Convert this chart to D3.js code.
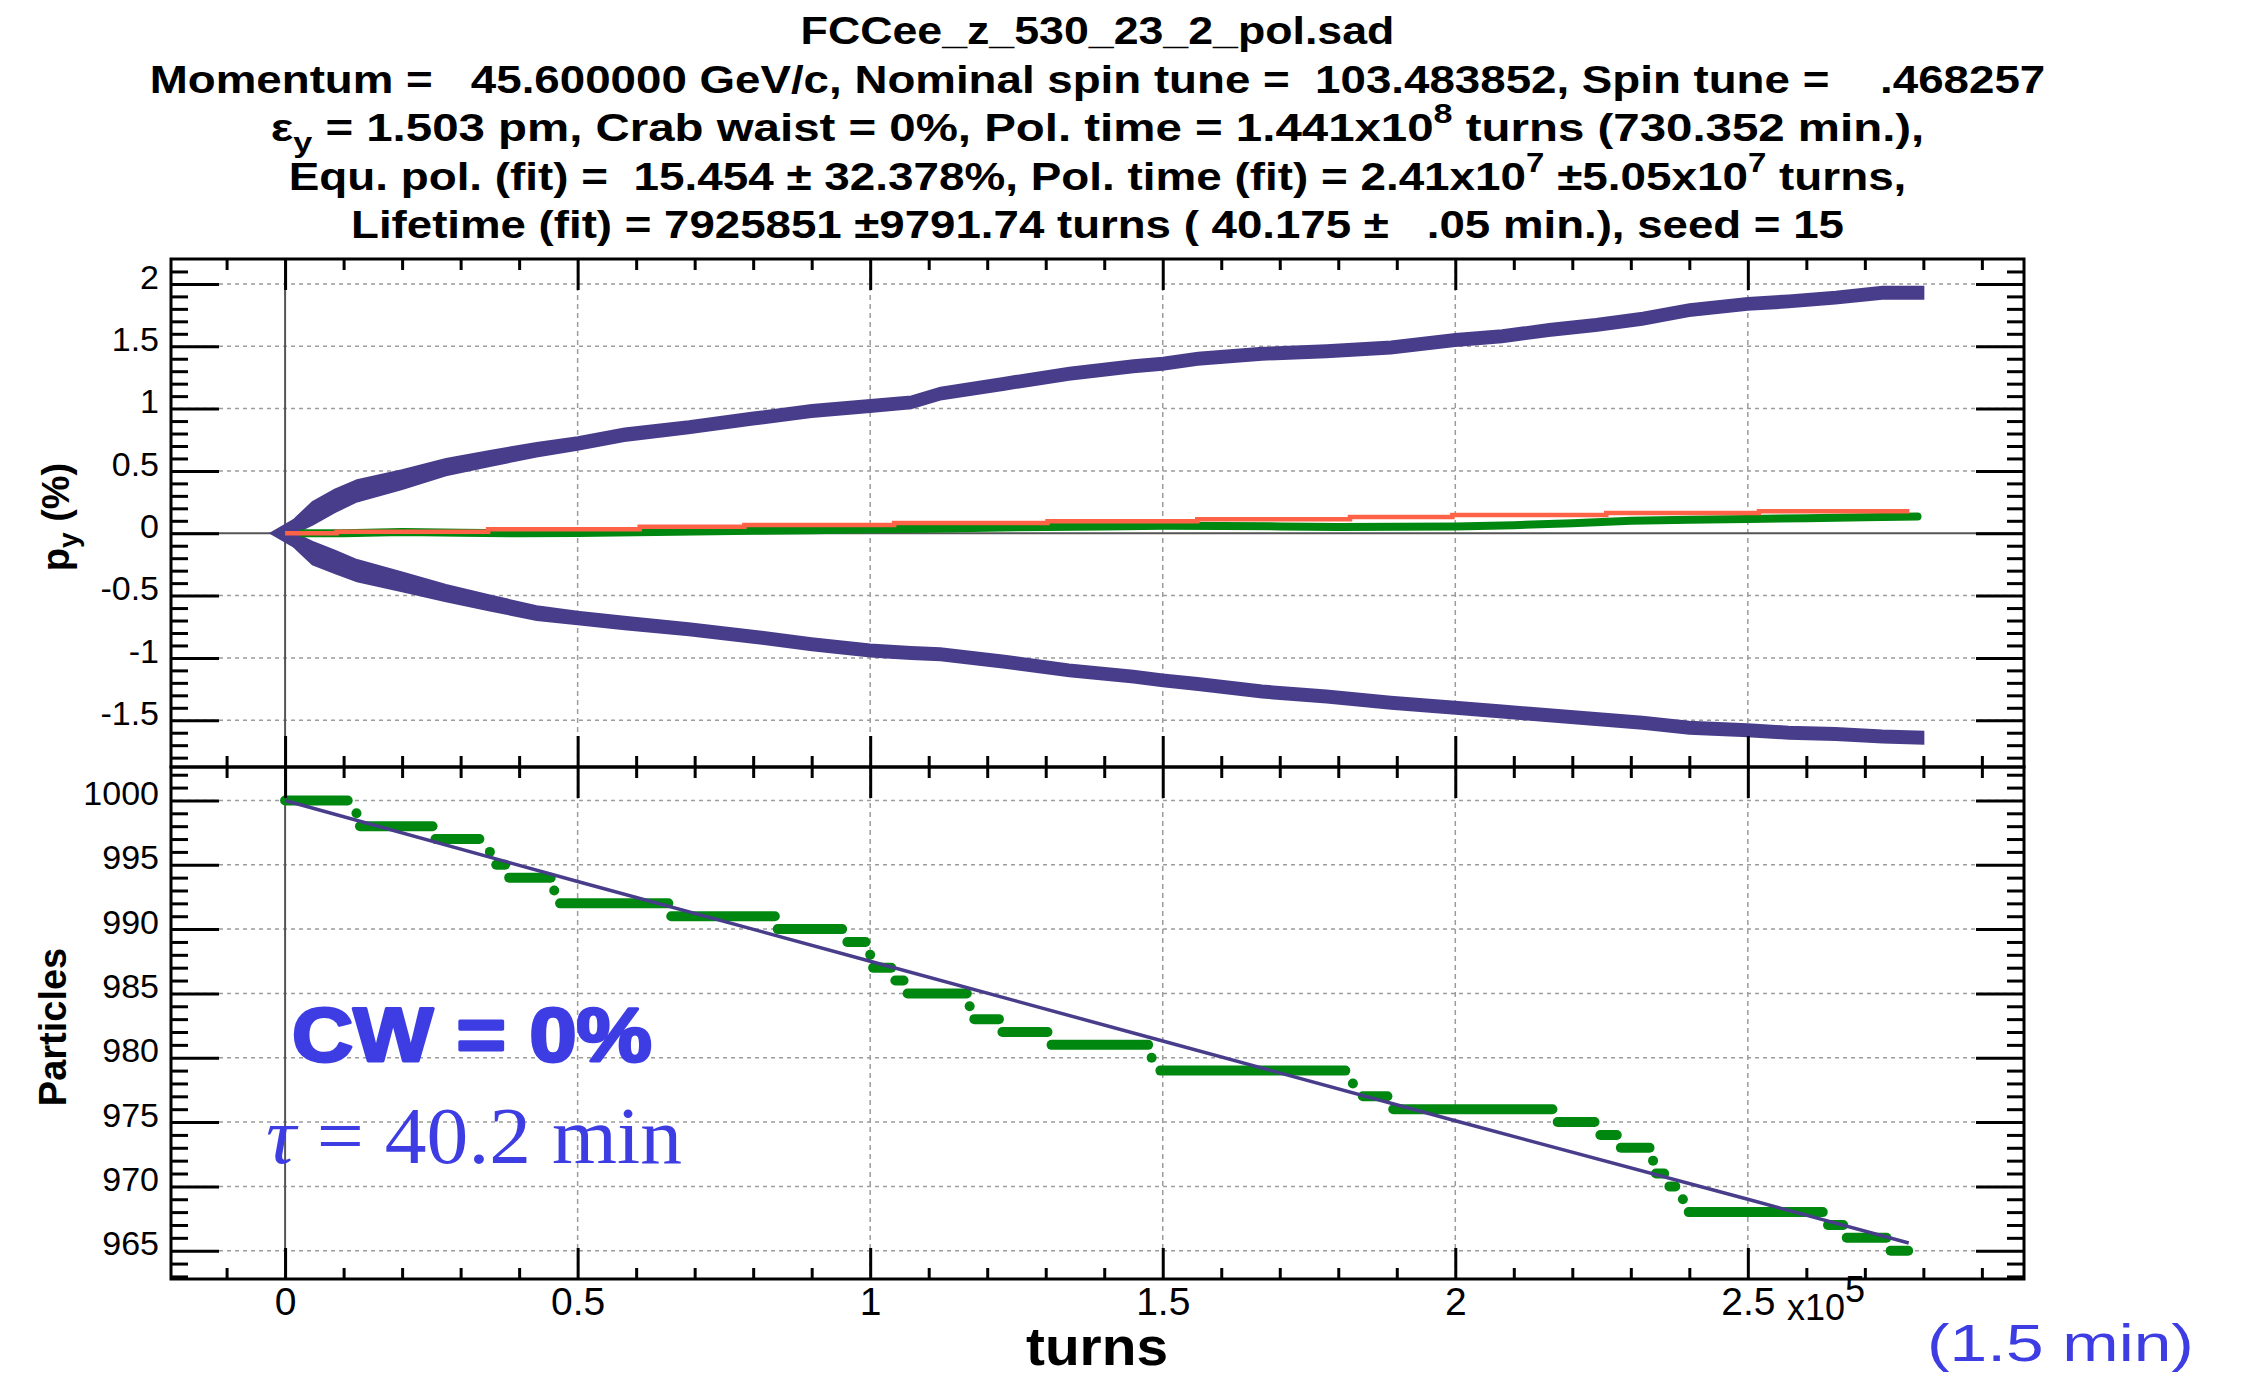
<!DOCTYPE html>
<html><head><meta charset="utf-8">
<script src="https://cdn.jsdelivr.net/npm/d3@7"></script>
<style>
html,body{margin:0;padding:0;background:#fff;}
svg{display:block;}
text{font-family:"Liberation Sans",Arial,Helvetica,sans-serif;}
</style></head><body>
<svg id="chart" width="2249" height="1378"></svg>
<script>
// ---------------- DATA ----------------
const titleLines = [
  "FCCee_z_530_23_2_pol.sad",
  "Momentum =   45.600000 GeV/c, Nominal spin tune =  103.483852, Spin tune =    .468257",
  "εy = 1.503 pm, Crab waist = 0%, Pol. time = 1.441x10^8 turns (730.352 min.),",
  "Equ. pol. (fit) =  15.454 ± 32.378%, Pol. time (fit) = 2.41x10^7 ±5.05x10^7 turns,",
  "Lifetime (fit) = 7925851 ±9791.74 turns ( 40.175 ±   .05 min.), seed = 15"
];
const xTickValues = [0, 50000, 100000, 150000, 200000, 250000];
const xTickLabels = ["0", "0.5", "1", "1.5", "2", "2.5"];
const polTickValues = [-1.5, -1, -0.5, 0, 0.5, 1, 1.5, 2];
const polTickLabels = ["-1.5", "-1", "-0.5", "0", "0.5", "1", "1.5", "2"];
const partTickValues = [965, 970, 975, 980, 985, 990, 995, 1000];
const partTickLabels = ["965", "970", "975", "980", "985", "990", "995", "1000"];

// top panel: polarisation envelope (upper / lower) in %, vs turns
const bandTurns = [0, 2000, 4700, 8500, 12300, 20000, 27500, 35000, 43000, 50000, 58000, 69000, 80000, 90000,
  100000, 107000, 112000, 123000, 134000, 145000, 150000, 156000, 167000, 178000, 189000, 200000, 208000,
  216000, 224000, 232000, 240000, 250000, 257000, 265000, 273000, 280000];
const bandUpper = [0, 0.07, 0.16, 0.26, 0.34, 0.43, 0.53, 0.60, 0.67, 0.72, 0.79, 0.85, 0.92, 0.98,
  1.02, 1.05, 1.12, 1.20, 1.28, 1.34, 1.36, 1.40, 1.44, 1.46, 1.49, 1.55, 1.58,
  1.63, 1.67, 1.72, 1.79, 1.84, 1.86, 1.89, 1.93, 1.93];
const bandLower = [0, -0.07, -0.16, -0.23, -0.30, -0.39, -0.48, -0.56, -0.64, -0.68, -0.72, -0.77, -0.83, -0.89,
  -0.94, -0.96, -0.97, -1.03, -1.10, -1.15, -1.18, -1.21, -1.27, -1.31, -1.36, -1.40, -1.43,
  -1.46, -1.49, -1.52, -1.56, -1.58, -1.60, -1.61, -1.63, -1.64];
const bandSpread = [0.03, 0.06, 0.09, 0.09, 0.085, 0.075, 0.065, 0.06, 0.055, 0.05, 0.05, 0.048, 0.048, 0.048,
  0.048, 0.048, 0.048, 0.048, 0.048, 0.048, 0.048, 0.048, 0.048, 0.048, 0.048, 0.048, 0.048,
  0.048, 0.048, 0.048, 0.048, 0.048, 0.048, 0.048, 0.048, 0.048];

// top panel: mean polarisation (green) and fit (orange)
const meanTurns = [3000, 10000, 20000, 30000, 40000, 50000, 60000, 70000, 80000, 90000, 100000, 110000, 120000,
  130000, 140000, 150000, 160000, 170000, 180000, 190000, 200000, 210000, 220000, 230000, 240000, 250000,
  260000, 270000, 279000];
const meanPol = [0.0, 0.0, 0.01, 0.005, 0.0, 0.003, 0.008, 0.015, 0.02, 0.025, 0.032, 0.036, 0.045,
  0.05, 0.055, 0.06, 0.058, 0.055, 0.05, 0.052, 0.055, 0.065, 0.08, 0.1, 0.108, 0.115,
  0.12, 0.128, 0.135];
const fitTurns = [0, 8800, 34700, 60600, 78500, 104100, 130300, 155900, 182000, 199500, 225800, 251900, 277600];
const fitPol = [0, 0.013, 0.032, 0.053, 0.067, 0.083, 0.096, 0.112, 0.131, 0.147, 0.163, 0.176, 0.176];

// bottom panel: surviving particles (green steps)
const stepStart = [0, 12200, 12800, 25700, 35000, 36100, 38300, 46000, 47000, 66000, 84200, 96100, 100000,
  100500, 104300, 106400, 117000, 117800, 122600, 131000, 148100, 149600, 182500, 184200, 189400, 217500,
  224800, 228300, 233800, 234300, 236600, 238900, 239900, 263700, 266900, 274400];
const stepEnd = [10700, 12200, 25200, 33200, 35000, 37600, 45400, 46000, 65500, 83700, 95200, 99200, 100000,
  103600, 105700, 116500, 117000, 122000, 130300, 147500, 148100, 181200, 182500, 188400, 216600, 223800,
  227600, 233200, 233800, 235700, 237600, 238900, 262800, 266300, 273700, 277400];
const stepCount = [1000, 999, 998, 997, 996, 995, 994, 993, 992, 991, 990, 989, 988,
  987, 986, 985, 984, 983, 982, 981, 980, 979, 978, 977, 976, 975,
  974, 973, 972, 971, 970, 969, 968, 967, 966, 965];
// bottom panel: lifetime fit
const lifeTurns = [0, 50000, 100000, 150000, 200000, 250000, 277500];
const lifeCount = [1000, 993.7, 987.5, 981.3, 975.1, 969.0, 965.6];

// ---------------- LAYOUT ----------------
const svg = d3.select("#chart");
const L = 171, R = 2024, T1 = 259, B1 = 767, T2 = 767, B2 = 1279;
const black = "#000", grid = "#9c9c9c";
const cPurple = "#483d8b", cGreen = "#00870f", cOrange = "#ff6347", cBlue = "#3d3de3";
const SANS = '"Liberation Sans",Arial,Helvetica,sans-serif';
const SERIF = '"Liberation Serif","Times New Roman",serif';

const x = d3.scaleLinear().domain([-19500, 297200]).range([L, R]);
const yTop = d3.scaleLinear().domain([-1.875, 2.2]).range([B1, T1]);
const yBot = d3.scaleLinear().domain([962.8, 1002.6]).range([B2, T2]);

const xMinor = d3.range(-1, 30).map(i => i * 10000).filter(v => v % 50000 !== 0);
const polMinor = d3.range(-18, 22).map(i => i / 10).filter(v => Math.abs(v * 2 - Math.round(v * 2)) > 1e-6);
const partMinor = d3.range(963, 1003).filter(v => v % 5 !== 0);

svg.append("rect").attr("width", 2249).attr("height", 1378).attr("fill", "#fff");

const defs = svg.append("defs");
defs.append("clipPath").attr("id", "clipTop").append("rect").attr("x", L).attr("y", T1).attr("width", R - L).attr("height", B1 - T1);
defs.append("clipPath").attr("id", "clipBot").append("rect").attr("x", L).attr("y", T2).attr("width", R - L).attr("height", B2 - T2);

function drawGrid(y, yTicks, top, bottom) {
  const g = svg.append("g");
  g.selectAll(".gx").data(xTickValues.filter(v => v !== 0)).join("line")
    .attr("x1", d => x(d)).attr("x2", d => x(d)).attr("y1", top).attr("y2", bottom)
    .attr("stroke", grid).attr("stroke-width", 1.5).attr("stroke-dasharray", "5,4");
  g.selectAll(".gy").data(yTicks).join("line")
    .attr("x1", L).attr("x2", R).attr("y1", d => y(d)).attr("y2", d => y(d))
    .attr("stroke", grid).attr("stroke-width", 1.5).attr("stroke-dasharray", "4,4");
}
drawGrid(yTop, polTickValues.filter(v => v !== 0), T1, B1);
drawGrid(yBot, partTickValues, T2, B2);

// zero lines
svg.append("line").attr("x1", L).attr("x2", R).attr("y1", yTop(0)).attr("y2", yTop(0)).attr("stroke", "#555").attr("stroke-width", 2);
svg.append("line").attr("x1", x(0)).attr("x2", x(0)).attr("y1", T1).attr("y2", B2).attr("stroke", "#555").attr("stroke-width", 2);

// ---------------- TOP PANEL DATA ----------------
const gTop = svg.append("g").attr("clip-path", "url(#clipTop)");
function bandArea(vals) {
  const pts = bandTurns.map((t, i) => ({t, v: vals[i], s: bandSpread[i]}));
  return d3.area().x(d => x(d.t)).y0(d => yTop(d.v - d.s)).y1(d => yTop(d.v + d.s))(pts);
}
[bandUpper, bandLower].forEach(vals => {
  gTop.append("path").attr("d", bandArea(vals)).attr("fill", cPurple).attr("stroke", cPurple).attr("stroke-width", 2);
});
// tip of the envelope at start
gTop.append("path")
  .attr("d", d3.line()([[x(-2800), yTop(0)], [x(bandTurns[1]), yTop(bandUpper[1] + bandSpread[1])], [x(bandTurns[1]), yTop(bandLower[1] - bandSpread[1])]]) + "Z")
  .attr("fill", cPurple);

gTop.append("path")
  .attr("d", d3.line().x((d, i) => x(meanTurns[i])).y(d => yTop(d))(meanPol))
  .attr("fill", "none").attr("stroke", cGreen).attr("stroke-width", 8).attr("stroke-linecap", "round").attr("stroke-linejoin", "round");

gTop.append("path")
  .attr("d", d3.line().curve(d3.curveStepAfter).x((d, i) => x(fitTurns[i])).y(d => yTop(d))(fitPol))
  .attr("fill", "none").attr("stroke", cOrange).attr("stroke-width", 4.5);

// ---------------- BOTTOM PANEL DATA ----------------
const gBot = svg.append("g").attr("clip-path", "url(#clipBot)");
gBot.selectAll(".step").data(stepCount).join("line")
  .attr("x1", (d, i) => x(stepStart[i])).attr("x2", (d, i) => x(stepEnd[i]))
  .attr("y1", d => yBot(d)).attr("y2", d => yBot(d))
  .attr("stroke", cGreen).attr("stroke-width", 10).attr("stroke-linecap", "round");
gBot.append("path")
  .attr("d", d3.line().x((d, i) => x(lifeTurns[i])).y(d => yBot(d))(lifeCount))
  .attr("fill", "none").attr("stroke", cPurple).attr("stroke-width", 3.5);

// ---------------- AXES / FRAMES ----------------
function styleAxis(g) {
  g.select(".domain").remove();
  g.selectAll(".tick line").attr("stroke", black).attr("stroke-width", 3);
}
function panelAxes(y, top, bottom, yMajor, yMinor, yLabels) {
  [[d3.axisBottom, bottom, -31, xTickValues], [d3.axisBottom, bottom, -11, xMinor],
   [d3.axisTop, top, -31, xTickValues], [d3.axisTop, top, -11, xMinor]].forEach(([ax, pos, len, vals]) => {
    svg.append("g").attr("transform", `translate(0,${pos})`)
      .call(ax(x).tickValues(vals).tickSizeInner(len).tickSizeOuter(0).tickFormat(""))
      .call(styleAxis);
  });
  svg.append("g").attr("transform", `translate(${L},0)`)
    .call(d3.axisLeft(y).tickValues(yMajor).tickSizeInner(-48).tickSizeOuter(0).tickPadding(12)
      .tickFormat((d, i) => yLabels[i]))
    .call(styleAxis)
    .call(g => g.selectAll("text").attr("font-size", 34).attr("fill", black).attr("dy", "0.12em")
      .style("font-family", SANS));
  svg.append("g").attr("transform", `translate(${L},0)`)
    .call(d3.axisLeft(y).tickValues(yMinor).tickSizeInner(-17).tickSizeOuter(0).tickFormat(""))
    .call(styleAxis);
  svg.append("g").attr("transform", `translate(${R},0)`)
    .call(d3.axisRight(y).tickValues(yMajor).tickSizeInner(-48).tickSizeOuter(0).tickFormat(""))
    .call(styleAxis);
  svg.append("g").attr("transform", `translate(${R},0)`)
    .call(d3.axisRight(y).tickValues(yMinor).tickSizeInner(-17).tickSizeOuter(0).tickFormat(""))
    .call(styleAxis);
  svg.append("rect").attr("x", L).attr("y", top).attr("width", R - L).attr("height", bottom - top)
    .attr("fill", "none").attr("stroke", black).attr("stroke-width", 3);
}
panelAxes(yTop, T1, B1, polTickValues, polMinor, polTickLabels);
panelAxes(yBot, T2, B2, partTickValues, partMinor, partTickLabels);

// x tick labels (bottom panel)
svg.append("g").attr("transform", `translate(0,${B2})`)
  .call(d3.axisBottom(x).tickValues(xTickValues).tickSize(0).tickPadding(8).tickFormat((d, i) => xTickLabels[i]))
  .call(g => g.select(".domain").remove())
  .call(g => g.selectAll("text").attr("font-size", 39).attr("fill", black).attr("dy", "0.71em")
    .style("font-family", SANS));

// ---------------- TEXT ----------------
function fitW(t, w, ax) {
  const bb = t.node().getBBox();
  const s = w / bb.width;
  t.attr("transform", `translate(${ax},0) scale(${s},1) translate(${-ax},0)`);
}
function richText(t, str, fs) {
  const parts = str.split(/(\^\d|εy)/);
  let shift = 0;
  parts.forEach(p => {
    if (!p) return;
    if (p[0] === "^") {
      t.append("tspan").attr("dy", -0.45 * fs - shift).attr("font-size", fs * 0.72).text(p.slice(1));
      shift = -0.45 * fs;
    } else if (p === "εy") {
      t.append("tspan").attr("dy", -shift).text("ε");
      t.append("tspan").attr("dy", 0.28 * fs).attr("font-size", fs * 0.72).text("y");
      shift = 0.28 * fs;
    } else {
      t.append("tspan").attr("dy", -shift).text(p);
      shift = 0;
    }
  });
}
const titleBase = [44, 93, 141, 190, 238];
const titleW = [594, 1896, 1654, 1618, 1493];
const cx = (L + R) / 2;
titleLines.forEach((s, i) => {
  const t = svg.append("text").attr("x", cx).attr("y", titleBase[i]).attr("text-anchor", "middle")
    .attr("font-size", 39).attr("font-weight", "bold").attr("fill", black)
    .attr("xml:space", "preserve").style("white-space", "pre");
  richText(t, s, 39);
  fitW(t, titleW[i], cx);
});

// y-axis titles
const py = svg.append("text").attr("transform", "translate(69,517) rotate(-90)").attr("text-anchor", "middle")
  .attr("font-size", 38).attr("font-weight", "bold").attr("fill", black).style("white-space", "pre");
py.append("tspan").text("p");
py.append("tspan").attr("dy", 9).attr("font-size", 28).text("y");
py.append("tspan").attr("dy", -9).text(" (%)");

svg.append("text").attr("transform", "translate(66,1027) rotate(-90)").attr("text-anchor", "middle")
  .attr("font-size", 38).attr("font-weight", "bold").attr("fill", black).text("Particles");

// x-axis title
const tt = svg.append("text").attr("x", 1097).attr("y", 1365).attr("text-anchor", "middle")
  .attr("font-size", 54).attr("font-weight", "bold").attr("fill", black).text("turns");
fitW(tt, 142, 1097);

// x10^5
const xm = svg.append("text").attr("x", 1787).attr("y", 1320).attr("font-size", 36).attr("fill", black);
xm.append("tspan").text("x10");
xm.append("tspan").attr("dy", -18).text("5");

// annotations
const cw = svg.append("text").attr("x", 292).attr("y", 1061).attr("font-size", 76).attr("font-weight", "bold")
  .attr("fill", cBlue).attr("stroke", cBlue).attr("stroke-width", 3).attr("stroke-linejoin", "round")
  .style("white-space", "pre").text("CW = 0%");
fitW(cw, 360, 292);

const tau = svg.append("text").attr("x", 266).attr("y", 1163).attr("font-size", 80)
  .style("font-family", SERIF).attr("fill", cBlue).style("white-space", "pre");
tau.append("tspan").attr("font-style", "italic").text("τ");
tau.append("tspan").text(" = 40.2 min");
fitW(tau, 416, 266);

const mn = svg.append("text").attr("x", 1927).attr("y", 1361).attr("font-size", 52).attr("fill", cBlue)
  .style("white-space", "pre").text("(1.5 min)");
fitW(mn, 267, 1927);
</script></body></html>
